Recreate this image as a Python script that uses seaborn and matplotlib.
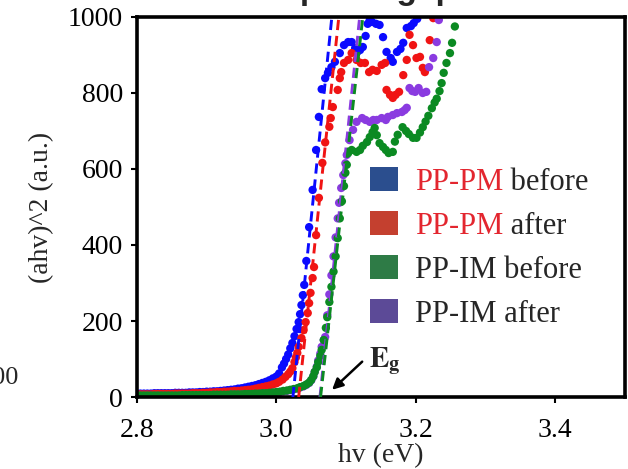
import pandas as pd
import numpy as np
import matplotlib.pyplot as plt
import seaborn as sns
from matplotlib.patches import Patch

sns.set_theme(style='ticks')
plt.rcParams['font.family'] = ['Liberation Serif', 'DejaVu Serif']
plt.rcParams['mathtext.fontset'] = 'stix'

# ---- data ----
# shared low-energy grid (absorption tail)
tail_hv = [2.800, 2.805, 2.810, 2.815, 2.820, 2.825, 2.830, 2.835, 2.840, 2.845,
           2.850, 2.855, 2.860, 2.865, 2.870, 2.875, 2.880, 2.885, 2.890, 2.895,
           2.900, 2.905, 2.910, 2.915, 2.920, 2.925, 2.930, 2.935, 2.940, 2.945,
           2.950, 2.955, 2.960, 2.965, 2.970, 2.975, 2.980, 2.985, 2.990, 2.995]

blue_tail = [9, 9, 9, 9, 9, 10, 10, 10, 10, 10,
             10, 11, 11, 11, 11, 12, 12, 12, 13, 13,
             14, 14, 15, 15, 16, 17, 18, 19, 20, 22,
             23, 25, 27, 29, 31, 34, 37, 40, 44, 49]
red_tail = [7, 7, 7, 7, 7, 8, 8, 8, 8, 8,
            8, 9, 9, 9, 9, 9, 10, 10, 10, 11,
            11, 12, 12, 13, 13, 14, 14, 15, 16, 16,
            17, 18, 19, 20, 22, 24, 26, 28, 30, 33]
green_tail = [4, 4, 4, 4, 4, 4, 4, 4, 4, 4,
              4, 4, 4, 5, 5, 5, 5, 5, 5, 5,
              5, 5, 6, 6, 6, 6, 6, 7, 7, 7,
              7, 8, 8, 8, 9, 9, 10, 10, 11, 12]
purple_tail = [3, 3, 3, 3, 3, 3, 3, 3, 3, 3,
               3, 3, 3, 4, 4, 4, 4, 4, 4, 4,
               4, 4, 5, 5, 5, 5, 5, 6, 6, 6,
               6, 7, 7, 7, 8, 8, 9, 9, 10, 11]

# absorption edge + plateau
blue_hv = [3.000, 3.004, 3.008, 3.011, 3.014, 3.017, 3.020, 3.023, 3.026, 3.029,
           3.032, 3.034, 3.036, 3.038, 3.040, 3.043, 3.047, 3.052, 3.057, 3.061,
           3.065, 3.070, 3.074, 3.079, 3.084, 3.091, 3.097, 3.103, 3.108, 3.113,
           3.116, 3.120, 3.124, 3.128, 3.131, 3.134, 3.137, 3.143, 3.148, 3.153,
           3.158, 3.164, 3.167, 3.173, 3.178, 3.182, 3.187, 3.193, 3.197, 3.202,
           3.207]
blue_val = [54, 62, 78, 88, 100, 112, 128, 142, 160, 179,
            197, 218, 242, 268, 295, 358, 447, 545, 650, 737,
            810, 839, 853, 868, 882, 905, 926, 934, 934, 918,
            908, 913, 921, 950, 982, 992, 987, 982, 979, 947,
            908, 892, 882, 908, 916, 932, 971, 976, 984, 995,
            1010]

red_hv = [3.000, 3.004, 3.009, 3.013, 3.017, 3.020, 3.023, 3.026, 3.028, 3.030,
          3.032, 3.036, 3.039, 3.042, 3.045, 3.047, 3.049, 3.052, 3.054, 3.057,
          3.061, 3.066, 3.070, 3.076, 3.078, 3.081, 3.088, 3.091, 3.093, 3.097,
          3.103, 3.108, 3.115, 3.121, 3.127, 3.133, 3.138, 3.144, 3.151, 3.156,
          3.158, 3.163, 3.167, 3.171, 3.176, 3.182, 3.187, 3.191, 3.196, 3.201,
          3.206, 3.210, 3.213, 3.220, 3.225, 3.229]
red_val = [36, 40, 46, 53, 60, 67, 76, 92, 104, 116,
           132, 155, 176, 197, 221, 247, 274, 313, 342, 426,
           524, 616, 670, 711, 734, 763, 808, 839, 855, 879,
           887, 905, 887, 879, 879, 855, 861, 858, 874, 879,
           808, 795, 787, 795, 803, 847, 887, 953, 926, 892,
           895, 866, 855, 939, 997, 1010]

green_hv = [3.000, 3.005, 3.010, 3.015, 3.020, 3.025, 3.030, 3.034, 3.039, 3.043,
            3.047, 3.050, 3.053, 3.055, 3.058, 3.060, 3.063, 3.065, 3.068, 3.071,
            3.073, 3.076, 3.079, 3.082, 3.085, 3.088, 3.091, 3.094, 3.097, 3.099,
            3.101, 3.103, 3.108, 3.115, 3.120, 3.124, 3.130, 3.134, 3.138, 3.141,
            3.144, 3.148, 3.153, 3.157, 3.161, 3.167, 3.170, 3.174, 3.181, 3.186,
            3.190, 3.196, 3.201, 3.206, 3.210, 3.214, 3.218, 3.223, 3.227, 3.230,
            3.234, 3.237, 3.240, 3.244, 3.249, 3.252, 3.256, 3.259]
green_val = [13, 14, 16, 17, 19, 21, 23, 26, 29, 33,
             38, 45, 55, 66, 78, 92, 108, 124, 150, 182,
             210, 250, 290, 330, 370, 418, 470, 515, 555, 590,
             611, 642, 650, 645, 650, 661, 671, 684, 697, 708,
             689, 668, 658, 650, 642, 645, 672, 690, 710, 700,
             692, 682, 682, 696, 710, 725, 740, 760, 775, 785,
             805, 826, 853, 879, 905, 932, 975, 1010]

purple_hv = [3.000, 3.005, 3.010, 3.015, 3.020, 3.025, 3.030, 3.034, 3.039, 3.043,
             3.047, 3.050, 3.053, 3.055, 3.058, 3.060, 3.063, 3.065, 3.068, 3.070,
             3.073, 3.076, 3.079, 3.082, 3.085, 3.088, 3.090, 3.093, 3.096, 3.099,
             3.101, 3.105, 3.110, 3.115, 3.123, 3.128, 3.134, 3.139, 3.144, 3.151,
             3.157, 3.160, 3.167, 3.173, 3.180, 3.184, 3.187, 3.191, 3.195, 3.199,
             3.204, 3.210, 3.215, 3.219, 3.225, 3.230, 3.233, 3.236]
purple_val = [12, 13, 15, 16, 18, 20, 22, 25, 28, 32,
              37, 44, 54, 66, 80, 96, 114, 132, 150, 158,
              215, 270, 320, 370, 420, 470, 511, 550, 584, 615,
              637, 676, 703, 724, 734, 729, 724, 729, 729, 734,
              729, 737, 742, 747, 750, 755, 761, 813, 805, 803,
              813, 800, 803, 868, 892, 934, 992, 1010]

# linear Tauc fits: x-intercept (Eg) and hv where the fit reaches 1000
series = ['PP-PM before', 'PP-PM after', 'PP-IM after', 'PP-IM before']
fit_eg = [3.0237, 3.0320, 3.0625, 3.0634]
fit_top = [3.0796, 3.0896, 3.1195, 3.1240]

dot_colors = ['#0a0aff', '#f01414', '#8a3be0', '#0b8a22']
patch_colors = ['#2b4e8e', '#c4402f', '#2e7b46', '#5c4a97']

frames = []
for name, th, tv, hv, val in [
        ('PP-PM before', tail_hv, blue_tail, blue_hv, blue_val),
        ('PP-PM after', tail_hv, red_tail, red_hv, red_val),
        ('PP-IM after', tail_hv, purple_tail, purple_hv, purple_val),
        ('PP-IM before', tail_hv, green_tail, green_hv, green_val)]:
    frames.append(pd.DataFrame({'hv': th + hv, 'val': tv + val, 'series': name}))
df = pd.concat(frames, ignore_index=True)

# ---- figure ----
fig = plt.figure(figsize=(6.28, 4.69), dpi=100)
ax = fig.add_axes([0.218, 0.1535, 0.7772, 0.8103])

sns.scatterplot(data=df, x='hv', y='val', hue='series', hue_order=series,
                palette=dot_colors, s=36, linewidth=0, legend=False, ax=ax,
                zorder=2, clip_on=True)

for eg, top, c in zip(fit_eg, fit_top, dot_colors):
    ax.plot([eg, top], [0, 1000], color=c, lw=2.1, ls=(0, (3.5, 2.0)), zorder=3)

ax.set_xlim(2.8, 3.5)
ax.set_ylim(0, 1000)
ax.set_xticks([2.8, 3.0, 3.2, 3.4])
ax.set_xticklabels(['2.8', '3.0', '3.2', '3.4'])
ax.set_yticks([0, 200, 400, 600, 800, 1000])
ax.tick_params(direction='out', length=4, width=1.5, labelsize=20, colors='black')
ax.tick_params(axis='x', pad=11)
ax.tick_params(axis='y', pad=6)
for sp in ax.spines.values():
    sp.set_linewidth(2.6)
    sp.set_color('black')
    sp.set_visible(True)
ax.set_xlabel('hv (eV)', fontsize=20, labelpad=0)
ax.set_ylabel('(ahv)^2 (a.u.)', fontsize=20, labelpad=10)

# E_g arrow
ax.annotate('', xy=(3.077, 14), xytext=(3.126, 98),
            arrowprops=dict(arrowstyle='-|>', color='black', lw=1.8, mutation_scale=16))
ax.text(3.133, 78, r'$\mathbf{E}_{\mathbf{g}}$', fontsize=21, ha='left', va='baseline')

# legend (colored sample names)
handles = [Patch(facecolor=c, edgecolor='none') for c in patch_colors]
labels = ['PP-PM', 'PP-PM', 'PP-IM before', 'PP-IM after']
leg = ax.legend(handles, labels, loc='upper left', bbox_to_anchor=(0.477, 0.604),
                frameon=False, fontsize=22, borderpad=0, borderaxespad=0,
                handlelength=0.92, handleheight=0.82, handletextpad=0.55,
                labelspacing=0.47)
for t in leg.get_texts()[:2]:
    t.set_color('#e3262f')

# black suffix right after the red sample name
fig.canvas.draw()
W, H = fig.canvas.get_width_height()
for t, suffix in zip(leg.get_texts()[:2], [' before', ' after']):
    bb = t.get_window_extent()
    fig.text(bb.x1 / W, bb.y0 / H, suffix, fontsize=22, ha='left', va='bottom')

# cropped neighbour content at the picture edges
fig.text(0.436, 1.003, 'Optical gap', family='Liberation Sans', fontweight='bold',
         fontsize=24, ha='left', va='baseline')
fig.text(0.030, 0.194, '400', fontsize=19, ha='right', va='center')

fig.savefig('out.png', dpi=100)
